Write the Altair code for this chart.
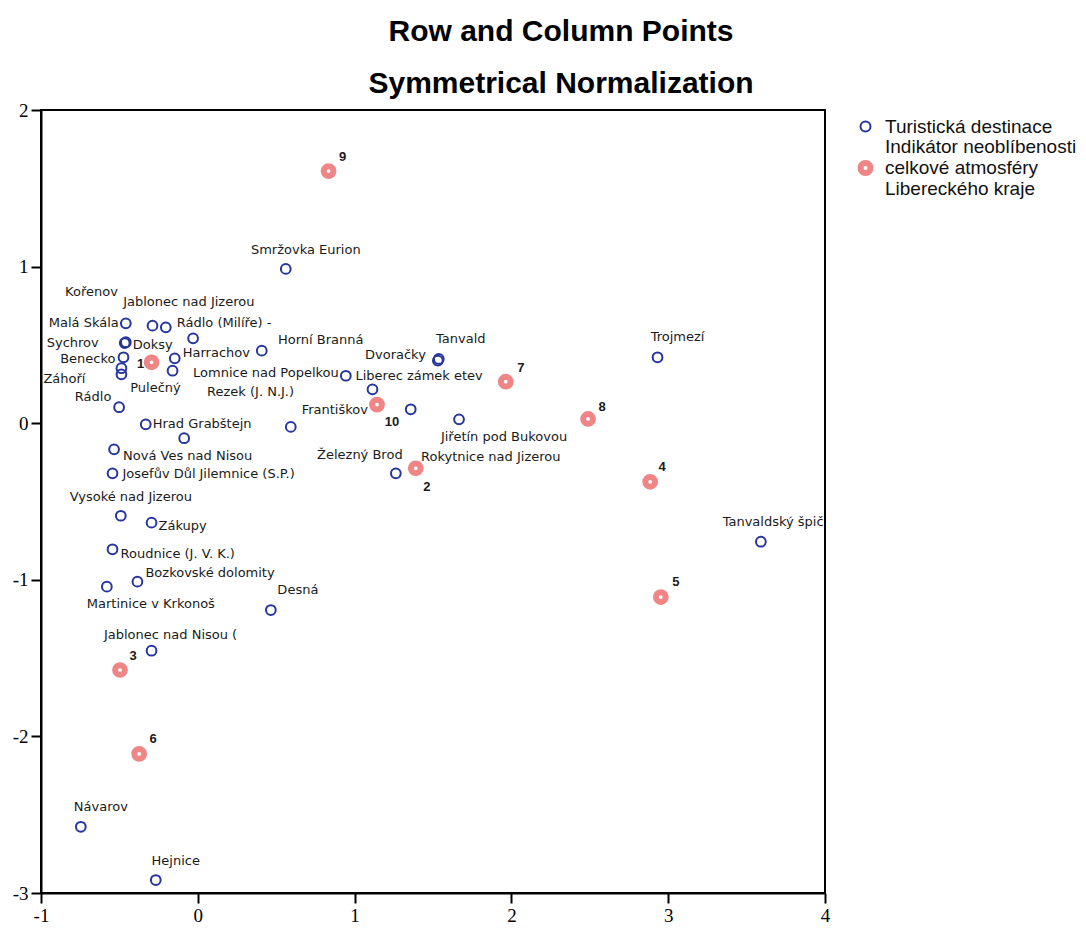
import altair as alt
import pandas as pd

# Row points: tourist destinations
dest_names = [
    "Smržovka Eurion", "Malá Skála", "Kořenov", "Jablonec nad Jizerou", "Rádlo (Milíře) -",
    "Doksy", "Sychrov", "Benecko", "Záhoří", "Pulečný",
    "Harrachov", "Rezek (J. N.J.)", "Horní Branná", "Lomnice nad Popelkou", "Liberec zámek etev",
    "Tanvald", "Dvoračky", "Rádlo", "Hrad Grabštejn", "Františkov",
    "Jilemnice (S.P.)", "Rokytnice nad Jizerou", "Jiřetín pod Bukovou", "Trojmezí", "Železný Brod",
    "Nová Ves nad Nisou", "Josefův Důl", "Vysoké nad Jizerou", "Zákupy", "Roudnice (J. V. K.)",
    "Bozkovské dolomity", "Martinice v Krkonoš", "Desná", "Jablonec nad Nisou (", "Návarov",
    "Hejnice", "Tanvaldský špičák",
]
dest_x = [
    0.561, -0.459, -0.289, -0.204, -0.030,
    -0.459, -0.466, -0.474, -0.487, -0.487,
    -0.147, -0.161, 0.408, 0.944, 1.114,
    1.537, 1.531, -0.502, -0.332, 0.593,
    -0.087, 1.358, 1.666, 2.932, 1.263,
    -0.534, -0.544, -0.491, -0.295, -0.544,
    -0.385, -0.580, 0.466, -0.295, -0.746,
    -0.268, 3.591,
]
dest_y = [
    0.985, 0.638, 0.623, 0.612, 0.542,
    0.517, 0.512, 0.421, 0.351, 0.312,
    0.414, 0.335, 0.463, 0.303, 0.216,
    0.410, 0.400, 0.102, -0.007, -0.024,
    -0.096, 0.089, 0.025, 0.421, -0.320,
    -0.167, -0.320, -0.591, -0.635, -0.805,
    -1.012, -1.044, -1.193, -1.453, -2.577,
    -2.917, -0.757,
]
# Label placement for each destination: shift in px (right / down) and text anchor
dest_label_dx = [
    20, -7, -61, 23, 31,
    7, -26, -8, -78, 34,
    8, 78, 59, -7, -17,
    22, -12, -26, 7, 44,
    63, 80, 45, 20, -36,
    9, 10, 10, 7, 8,
    8, 44, 27, 19, 20,
    20, 20,
]
dest_label_dy = [
    -19, 0, -34, -25, -15,
    3, 0, 2, 11, 14,
    -5, 21, -11, -3, -13,
    -20, -6, -10, 0, -17,
    36, 48, 18, -20, -18,
    7, 1, -19, 3, 5,
    -9, 17, -20, -16, -20,
    -19, -20,
]
dest_label_align = [
    "center", "right", "center", "center", "center",
    "left", "right", "right", "left", "center",
    "left", "center", "center", "right", "left",
    "center", "right", "center", "left", "center",
    "center", "center", "center", "center", "center",
    "left", "left", "center", "left", "left",
    "left", "center", "center", "center", "center",
    "center", "center",
]

# Column points: categories of the indicator
ind_names = ["1", "2", "3", "4", "5", "6", "7", "8", "9", "10"]
ind_x = [-0.295, 1.390, -0.496, 2.885, 2.953, -0.374, 1.964, 2.489, 0.834, 1.143]
ind_y = [0.389, -0.288, -1.576, -0.374, -1.110, -2.112, 0.265, 0.027, 1.610, 0.119]
ind_label_dx = [-11, 11, 13, 12, 15, 14, 15, 14, 14, 15]
ind_label_dy = [2, 19, -14, -15, -15, -15, -14, -12, -14, 17]

series_names = [
    "Turistická destinace",
    "Indikátor neoblíbenosti celkové atmosféry Libereckého kraje",
]
series_lines = ["Indikátor neoblíbenosti", "celkové atmosféry", "Libereckého kraje"]
series_colors = ["#26369e", "#ef8585"]
series_stroke = [2, 6]

x_domain = [-1, 4]
y_domain = [-3, 2]
x_ticks = [-1, 0, 1, 2, 3, 4]
y_ticks = [-3, -2, -1, 0, 1, 2]

PLOT_W = 784
PLOT_H = 783

dest = pd.DataFrame({
    "x": dest_x, "y": dest_y, "label": dest_names,
    "dx": dest_label_dx, "dy": dest_label_dy, "align": dest_label_align,
    "series": series_names[0],
})
ind = pd.DataFrame({
    "x": ind_x, "y": ind_y, "label": ind_names,
    "dx": ind_label_dx, "dy": ind_label_dy, "align": "center",
    "series": series_names[1],
})
pts = pd.concat([dest, ind], ignore_index=True)

x_scale = alt.Scale(domain=x_domain, nice=False, zero=False)
y_scale = alt.Scale(domain=y_domain, nice=False, zero=False)

label_expr = (
    "datum.label == '" + series_names[1] + "' ? ['" + "', '".join(series_lines) + "'] : datum.label"
)
# the three-line entry gets its ring beside the middle line (circle path shifted down one line)
ring_mid_path = "M-1,4.3A1,1,0,1,1,1,4.3A1,1,0,1,1,-1,4.3Z"
symbol_expr = "datum.value == '" + series_names[1] + "' ? '" + ring_mid_path + "' : 'circle'"

legend = alt.Legend(
    title=None, orient="none", legendX=815, legendY=7,
    labelFont="Liberation Sans", labelFontSize=19, labelColor="#111111",
    labelOffset=10, rowPadding=-20, labelLimit=400, labelExpr=label_expr,
    symbolType={"expr": symbol_expr},
)

# tick labels written with a plain hyphen for negatives
tick_expr = "'' + datum.value"

points = alt.Chart(pts).mark_point(shape="circle", filled=False, size=95, opacity=1).encode(
    x=alt.X("x:Q", title=None, scale=x_scale,
            axis=alt.Axis(values=x_ticks, labelExpr=tick_expr, labelFlush=False)),
    y=alt.Y("y:Q", title=None, scale=y_scale,
            axis=alt.Axis(values=y_ticks, labelExpr=tick_expr, labelFlush=False)),
    stroke=alt.Stroke("series:N", scale=alt.Scale(domain=series_names, range=series_colors),
                      legend=legend),
    strokeWidth=alt.StrokeWidth("series:N", scale=alt.Scale(domain=series_names, range=series_stroke),
                                legend=legend),
)

# pixel shifts of the labels expressed in axis units
ux = (x_domain[1] - x_domain[0]) / PLOT_W
uy = (y_domain[1] - y_domain[0]) / PLOT_H


def labels(df, align, font, size, weight):
    return alt.Chart(df).transform_filter(
        alt.datum.align == align
    ).transform_calculate(
        lx=f"datum.x + datum.dx * {ux}",
        ly=f"datum.y - datum.dy * {uy}",
    ).mark_text(
        align=align, baseline="middle", font=font, fontSize=size,
        fontWeight=weight, color="#1a1a1a", clip=True,
    ).encode(
        x=alt.X("lx:Q", scale=x_scale),
        y=alt.Y("ly:Q", scale=y_scale),
        text="label:N",
    )


layers = [points]
for a in ["left", "center", "right"]:
    layers.append(labels(dest, a, "DejaVu Sans", 13, "normal"))
layers.append(labels(ind, "center", "Liberation Sans", 13, "bold"))

chart = alt.layer(*layers).properties(
    width=PLOT_W,
    height=PLOT_H,
    background="white",
    padding={"left": 41, "top": 110, "right": 261, "bottom": 36},
    autosize="none",
    title=alt.TitleParams(
        text="Row and Column Points",
        subtitle="Symmetrical Normalization",
        font="Liberation Sans", fontSize=30, fontWeight="bold", color="black",
        subtitleFont="Liberation Sans", subtitleFontSize=30, subtitleFontWeight="bold",
        subtitleColor="black", subtitlePadding=22,
        anchor="middle", dx=128, offset=2,
    ),
).configure_view(
    stroke="black", strokeWidth=2,
).configure_axis(
    grid=False, domainColor="black", domainWidth=2,
    tickColor="black", tickWidth=2, tickSize=10,
    labelFont="Liberation Sans Narrow", labelFontSize=19, labelColor="black",
    labelPadding=3,
)

chart.save("out.html", embed_options={"renderer": "svg", "actions": False})
